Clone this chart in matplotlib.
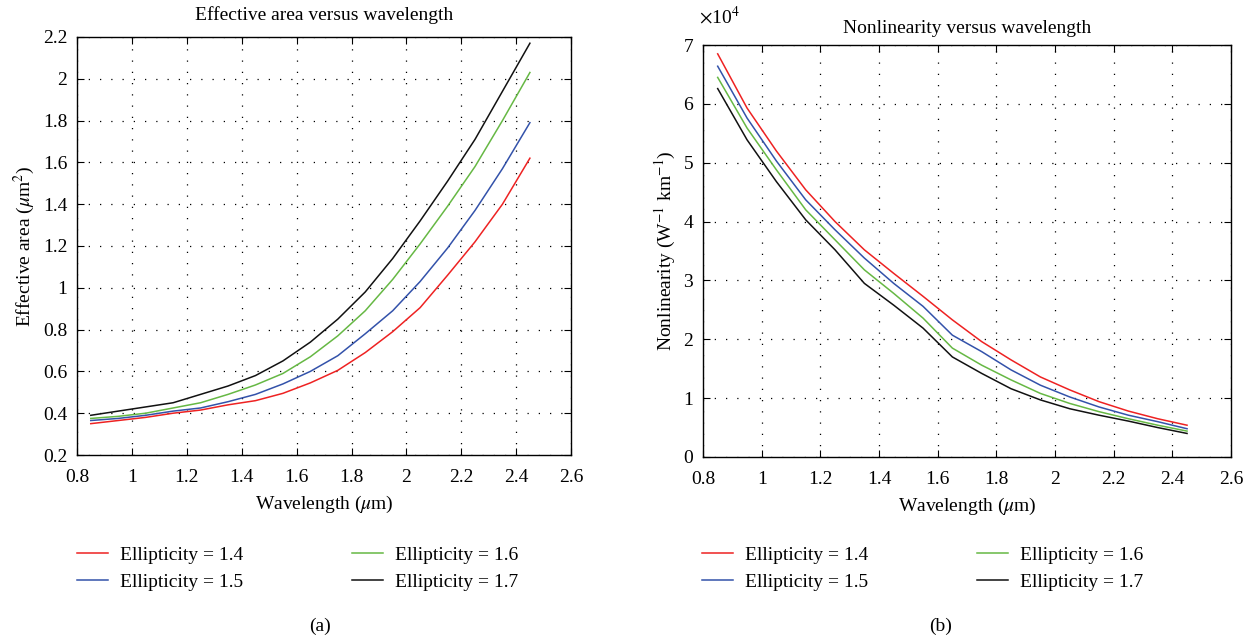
import numpy as np
import matplotlib; matplotlib.use('Agg')
import matplotlib.pyplot as plt
from matplotlib.ticker import FuncFormatter

plt.rcParams['font.family'] = ['Liberation Serif', 'DejaVu Serif']
plt.rcParams['mathtext.fontset'] = 'stix'

# wavelength samples (um)
wl = [0.85, 0.95, 1.05, 1.15, 1.25, 1.35, 1.45, 1.55, 1.65, 1.75,
      1.85, 1.95, 2.05, 2.15, 2.25, 2.35, 2.45]
labels = ['Ellipticity = 1.4', 'Ellipticity = 1.5', 'Ellipticity = 1.6', 'Ellipticity = 1.7']
colors = ['#ee2222', '#3352aa', '#66b844', '#111111']

# effective area (um^2)
aeff_14 = [0.35, 0.365, 0.38, 0.40, 0.415, 0.44, 0.46, 0.495, 0.545, 0.605,
           0.69, 0.79, 0.905, 1.06, 1.22, 1.40, 1.62]
aeff_15 = [0.365, 0.375, 0.39, 0.41, 0.425, 0.455, 0.49, 0.54, 0.60, 0.675,
           0.78, 0.89, 1.03, 1.19, 1.37, 1.57, 1.79]
aeff_16 = [0.375, 0.385, 0.40, 0.425, 0.45, 0.49, 0.535, 0.59, 0.67, 0.77,
           0.89, 1.04, 1.21, 1.39, 1.58, 1.80, 2.03]
aeff_17 = [0.39, 0.41, 0.43, 0.45, 0.49, 0.53, 0.58, 0.65, 0.74, 0.85,
           0.98, 1.14, 1.32, 1.51, 1.71, 1.94, 2.17]

# nonlinearity (x1e4 W^-1 km^-1)
gam_14 = [6.85, 5.93, 5.20, 4.54, 4.00, 3.52, 3.12, 2.73, 2.33, 1.96,
          1.65, 1.36, 1.14, 0.94, 0.78, 0.65, 0.54]
gam_15 = [6.64, 5.76, 5.03, 4.37, 3.86, 3.38, 2.95, 2.56, 2.07, 1.79,
          1.48, 1.22, 1.02, 0.85, 0.71, 0.60, 0.48]
gam_16 = [6.45, 5.59, 4.88, 4.20, 3.69, 3.18, 2.78, 2.36, 1.85, 1.56,
          1.31, 1.08, 0.91, 0.77, 0.65, 0.54, 0.44]
gam_17 = [6.26, 5.39, 4.68, 4.03, 3.52, 2.95, 2.58, 2.19, 1.70, 1.42,
          1.16, 0.97, 0.82, 0.71, 0.61, 0.50, 0.40]

fig = plt.figure(figsize=(12.59, 6.37), dpi=100)
axA = fig.add_axes([0.0612, 0.2857, 0.3924, 0.6563])
axB = fig.add_axes([0.5584, 0.2826, 0.4194, 0.6467])

fmt = FuncFormatter(lambda v, p: '%g' % round(v, 3))

def style(ax):
    ax.tick_params(direction='in', top=True, right=True, length=5, labelsize=14)
    ax.tick_params(axis='x', pad=10)
    ax.tick_params(axis='y', pad=7)
    ax.grid(True, color='black', linestyle=(0, (1, 8)), linewidth=0.9)
    ax.xaxis.set_major_formatter(fmt)
    for s in ax.spines.values():
        s.set_linewidth(1.0)

for ys, c, lb in zip([aeff_14, aeff_15, aeff_16, aeff_17], colors, labels):
    axA.plot(wl, ys, color=c, lw=1.1, label=lb)
axA.set_xlim(0.8, 2.6); axA.set_ylim(0.2, 2.2)
axA.set_xticks(np.arange(0.8, 2.61, 0.2)); axA.set_yticks(np.arange(0.2, 2.21, 0.2))
style(axA)
axA.yaxis.set_major_formatter(fmt)
axA.set_xlabel(r'Wavelength ($\mu$m)', fontsize=14, labelpad=6)
axA.set_ylabel(r'Effective area ($\mu$m$^2$)', fontsize=14)
axA.set_title('Effective area versus wavelength', fontsize=14, pad=12)

for ys, c, lb in zip([gam_14, gam_15, gam_16, gam_17], colors, labels):
    axB.plot(wl, np.array(ys) * 1e4, color=c, lw=1.1, label=lb)
axB.set_xlim(0.8, 2.6); axB.set_ylim(0, 7e4)
axB.set_xticks(np.arange(0.8, 2.61, 0.2)); axB.set_yticks(np.arange(0, 7.01e4, 1e4))
style(axB)
axB.yaxis.set_major_formatter(FuncFormatter(lambda v, p: '%g' % round(v / 1e4, 3)))
axB.text(-0.008, 1.068, r'$\times$10$^4$', transform=axB.transAxes, fontsize=14,
         ha='left', va='center')
axB.set_xlabel(r'Wavelength ($\mu$m)', fontsize=14, labelpad=6)
axB.set_ylabel(r'Nonlinearity (W$^{-1}$ km$^{-1}$)', fontsize=14)
axB.set_title('Nonlinearity versus wavelength', fontsize=14, pad=9)

for ax, x0 in [(axA, 0.0612), (axB, 0.5576)]:
    ax.legend(loc='upper left', bbox_to_anchor=(x0, 0.143), bbox_transform=fig.transFigure,
              ncol=2, frameon=False, fontsize=14, borderpad=0, borderaxespad=0,
              handlelength=1.6, handletextpad=0.6, columnspacing=5.6, labelspacing=0.5)

fig.text(0.254, 0.010, '(a)', fontsize=14, ha='center')
fig.text(0.747, 0.010, '(b)', fontsize=14, ha='center')

plt.savefig('out.png', dpi=100)
